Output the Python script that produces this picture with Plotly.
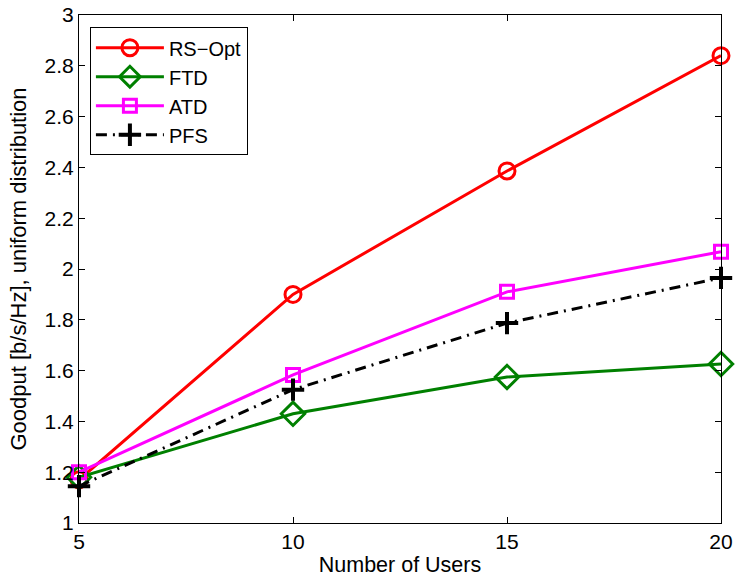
import plotly.graph_objects as go

users = [5, 10, 15, 20]
rs_opt = [1.17, 1.90, 2.386, 2.84]
ftd = [1.18, 1.43, 1.575, 1.626]
atd = [1.20, 1.583, 1.91, 2.068]
pfs = [1.145, 1.525, 1.787, 1.965]

y_ticks = [1, 1.2, 1.4, 1.6, 1.8, 2, 2.2, 2.4, 2.6, 2.8, 3]
y_labels = ["1", "1.2", "1.4", "1.6", "1.8", "2", "2.2", "2.4", "2.6", "2.8", "3"]
x_ticks = [5, 10, 15, 20]

FONT = "Liberation Sans, Arial, Helvetica"

fig = go.Figure()
fig.add_trace(go.Scatter(x=users, y=rs_opt, name="RS\u2212Opt", mode="lines+markers", cliponaxis=False,
                         line=dict(color="#ff0000", width=3),
                         marker=dict(symbol="circle-open", size=16, line=dict(width=3, color="#ff0000"))))
fig.add_trace(go.Scatter(x=users, y=ftd, name="FTD", mode="lines+markers", cliponaxis=False,
                         line=dict(color="#008000", width=3),
                         marker=dict(symbol="diamond-open", size=18, line=dict(width=3, color="#008000"))))
fig.add_trace(go.Scatter(x=users, y=atd, name="ATD", mode="lines+markers", cliponaxis=False,
                         line=dict(color="#ff00ff", width=3),
                         marker=dict(symbol="square-open", size=13, line=dict(width=3, color="#ff00ff"))))
fig.add_trace(go.Scatter(x=users, y=pfs, name="PFS", mode="lines+markers", cliponaxis=False,
                         line=dict(color="#000000", width=3, dash="11px,6px,2px,6px"),
                         marker=dict(symbol="cross-thin", size=16, line=dict(width=4, color="#000000"))))

axis_common = dict(showgrid=False, zeroline=False, showline=True, linecolor="black", linewidth=1,
                   mirror="ticks", ticks="inside", ticklen=6, tickcolor="black", automargin=False,
                   tickfont=dict(family=FONT, size=21, color="black"))

fig.update_xaxes(range=[5, 20], tickvals=x_ticks, ticktext=[str(v) for v in x_ticks],
                 title=dict(text="Number of Users", font=dict(family=FONT, size=21.5, color="black"), standoff=4),
                 **axis_common)
fig.update_yaxes(range=[1, 3], tickvals=y_ticks, ticktext=y_labels,
                 title=dict(text="Goodput [b/s/Hz], uniform distribution", font=dict(family=FONT, size=22, color="black"), standoff=11),
                 **axis_common)

fig.update_layout(
    width=737, height=580,
    margin=dict(l=79, r=16, t=15, b=57),
    paper_bgcolor="white", plot_bgcolor="white",
    font=dict(family=FONT, size=21, color="black"),
    showlegend=True,
    legend=dict(x=0.017, y=0.976, xanchor="left", yanchor="top",
                bgcolor="white", bordercolor="black", borderwidth=1,
                font=dict(family=FONT, size=20, color="black"),
                itemwidth=68, tracegroupgap=0),
)

fig.write_html("out.html", config={"displayModeBar": False},
               post_script="document.body.style.margin='0';document.body.style.padding='0';")
